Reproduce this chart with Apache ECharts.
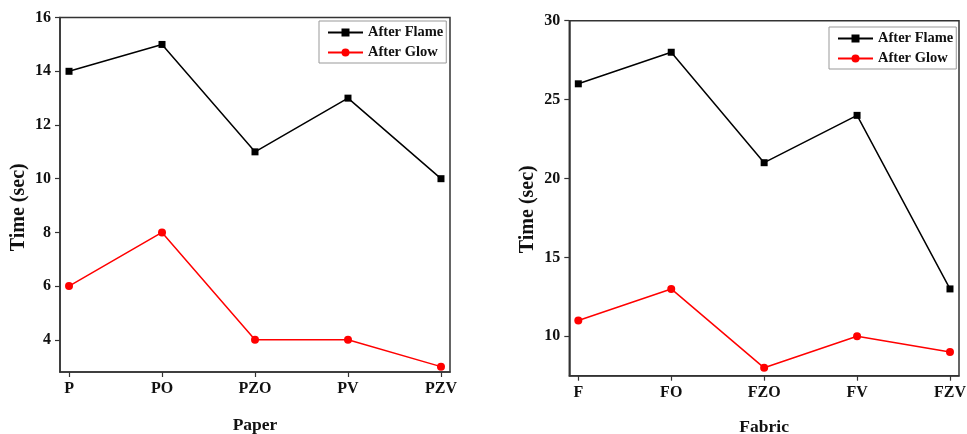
<!DOCTYPE html>
<html>
<head>
<meta charset="utf-8">
<script src="https://cdn.jsdelivr.net/npm/echarts@6/dist/echarts.min.js"></script>
<style>html,body{margin:0;padding:0;background:#fff}#c{width:967px;height:434px}</style>
</head>
<body>
<div id="c"></div>
<script>
var paperCats = ['P', 'PO', 'PZO', 'PV', 'PZV'];
var paperFlame = [14, 15, 11, 13, 10];
var paperGlow = [6, 8, 4, 4, 3];
var paperTicks = [4, 6, 8, 10, 12, 14, 16];

var fabricCats = ['F', 'FO', 'FZO', 'FV', 'FZV'];
var fabricFlame = [26, 28, 21, 24, 13];
var fabricGlow = [11, 13, 8, 10, 9];
var fabricTicks = [10, 15, 20, 25, 30];

var FONT = '"Liberation Serif", "Times New Roman", serif';
var AX = '#333';

function pairs(vals) { return vals.map(function (v, i) { return [i, v]; }); }

function xAxis(idx, cats, name, gap) {
  return {
    type: 'value', gridIndex: idx, min: -0.097, max: 4.097,
    name: name, nameLocation: 'middle', nameGap: gap,
    nameTextStyle: { fontFamily: FONT, fontWeight: 'bold', fontSize: 17.5, color: '#111' },
    axisLine: { show: true, onZero: false, lineStyle: { color: AX, width: 1.5 } },
    axisTick: { show: true, length: 5, inside: false, customValues: [0, 1, 2, 3, 4], lineStyle: { color: AX, width: 1.2 } },
    axisLabel: { customValues: [0, 1, 2, 3, 4], margin: 9, fontFamily: FONT, fontWeight: 'bold', fontSize: 16, color: '#111',
      formatter: function (v) { return cats[Math.round(v)]; } },
    splitLine: { show: false }
  };
}
function yAxis(idx, min, max, ticks, gap, shift) {
  return {
    type: 'value', gridIndex: idx, min: min, max: max,
    name: 'Time (sec)', nameLocation: 'middle', nameGap: gap,
    nameTextStyle: { fontFamily: FONT, fontWeight: 'bold', fontSize: 20, color: '#111', padding: [0, shift, 0, 0] },
    axisLine: { show: true, onZero: false, lineStyle: { color: AX, width: 1.5 } },
    axisTick: { show: true, length: 5, inside: false, customValues: ticks, lineStyle: { color: AX, width: 1.2 } },
    axisLabel: { customValues: ticks, margin: 9, fontFamily: FONT, fontWeight: 'bold', fontSize: 16, color: '#111' },
    splitLine: { show: false }
  };
}
function legend(left, top) {
  return {
    left: left, top: top, orient: 'vertical',
    data: ['After Flame', 'After Glow'],
    borderColor: '#999', borderWidth: 1, padding: [4, 3, 3, 8], itemGap: 5,
    itemWidth: 35, itemHeight: 10,
    textStyle: { fontFamily: FONT, fontWeight: 'bold', fontSize: 14.5, color: '#111' }
  };
}
function series(name, idx, vals, color, symbol, size) {
  return {
    name: name, type: 'line', xAxisIndex: idx, yAxisIndex: idx,
    data: pairs(vals), symbol: symbol, symbolSize: size, showSymbol: true,
    lineStyle: { color: color, width: 1.5 }, itemStyle: { color: color },
    animation: false
  };
}

var chart = echarts.init(document.getElementById('c'), null, { renderer: 'canvas' });
chart.setOption({
  backgroundColor: '#fff',
  animation: false,
  grid: [
    { left: 60, top: 17.6, right: 517, bottom: 62, containLabel: false, outerBoundsMode: 'none', show: true, borderColor: AX, borderWidth: 1.5, backgroundColor: 'transparent' },
    { left: 569.3, top: 20.7, right: 8, bottom: 58.3, containLabel: false, outerBoundsMode: 'none', show: true, borderColor: AX, borderWidth: 1.5, backgroundColor: 'transparent' }
  ],
  legend: [legend(319, 21), legend(829, 27)],
  xAxis: [xAxis(0, paperCats, 'Paper', 44), xAxis(1, fabricCats, 'Fabric', 43)],
  yAxis: [yAxis(0, 2.8, 16, paperTicks, 31, 25), yAxis(1, 7.5, 30, fabricTicks, 31, 22)],
  series: [
    series('After Flame', 0, paperFlame, '#000', 'rect', 7),
    series('After Glow', 0, paperGlow, '#ff0000', 'circle', 8),
    series('After Flame', 1, fabricFlame, '#000', 'rect', 7),
    series('After Glow', 1, fabricGlow, '#ff0000', 'circle', 8)
  ]
});
</script>
</body>
</html>
